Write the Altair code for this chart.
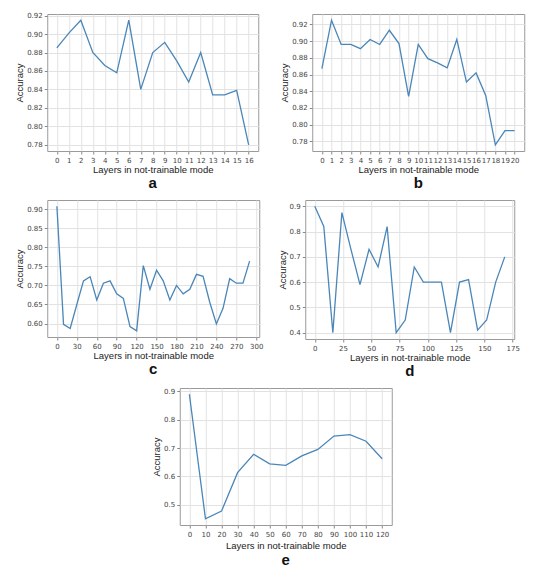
import altair as alt
import pandas as pd

# ---- data ----
a_x = list(range(17))
a_y = [0.885, 0.901, 0.915, 0.880, 0.866, 0.858, 0.915, 0.840, 0.880, 0.891,
       0.871, 0.848, 0.880, 0.834, 0.834, 0.839, 0.780]

b_x = list(range(21))
b_y = [0.867, 0.925, 0.896, 0.896, 0.891, 0.902, 0.896, 0.913, 0.897, 0.834,
       0.896, 0.879, 0.874, 0.868, 0.902, 0.851, 0.862, 0.835, 0.776, 0.793, 0.793]

c_x = list(range(0, 300, 10))
c_y = [0.908, 0.598, 0.587, 0.650, 0.712, 0.723, 0.662, 0.706, 0.712, 0.678,
       0.666, 0.592, 0.581, 0.752, 0.690, 0.740, 0.712, 0.662, 0.700, 0.678,
       0.690, 0.729, 0.724, 0.656, 0.599, 0.640, 0.718, 0.706, 0.706, 0.764]

d_x = list(range(0, 169, 8))
d_y = [0.900, 0.820, 0.400, 0.875, 0.730, 0.590, 0.730, 0.660, 0.820, 0.400,
       0.450, 0.660, 0.600, 0.600, 0.600, 0.400, 0.600, 0.610, 0.410, 0.450,
       0.600, 0.700]

e_x = list(range(0, 121, 10))
e_y = [0.890, 0.450, 0.477, 0.613, 0.678, 0.644, 0.639, 0.672, 0.695, 0.742,
       0.747, 0.724, 0.662]

a_xticks = list(range(17))
b_xticks = list(range(21))
c_xticks = list(range(0, 301, 30))
d_xticks = list(range(0, 176, 25))
e_xticks = list(range(0, 121, 10))

a_yticks = [0.78, 0.80, 0.82, 0.84, 0.86, 0.88, 0.90, 0.92]
b_yticks = [0.78, 0.80, 0.82, 0.84, 0.86, 0.88, 0.90, 0.92]
c_yticks = [0.60, 0.65, 0.70, 0.75, 0.80, 0.85, 0.90]
d_yticks = [0.4, 0.5, 0.6, 0.7, 0.8, 0.9]
e_yticks = [0.5, 0.6, 0.7, 0.8, 0.9]

XTITLE = "Layers in not-trainable mode"
LINE = "#4a86b8"


def margin(vals):
    lo, hi = min(vals), max(vals)
    r = hi - lo
    return [lo - 0.05 * r, hi + 0.05 * r]


def panel(xs, ys, xticks, yticks, yfmt, letter, w=211, h=137,
          xtitle_pad=1, letter_offset=2):
    df = pd.DataFrame({"x": xs, "y": ys})
    return alt.Chart(df).mark_line(color=LINE, strokeWidth=1.3).encode(
        x=alt.X("x:Q",
                scale=alt.Scale(domain=margin(xs), nice=False, zero=False),
                axis=alt.Axis(values=xticks, format="d", title=XTITLE,
                              titlePadding=xtitle_pad, labelOverlap=False,
                              labelFlush=False)),
        y=alt.Y("y:Q",
                scale=alt.Scale(domain=margin(ys), nice=False, zero=False),
                axis=alt.Axis(values=yticks, format=yfmt, title="Accuracy",
                              titlePadding=2, labelOverlap=False,
                              labelFlush=False)),
    ).properties(
        width=w, height=h,
        title=alt.TitleParams(letter, orient="bottom", frame="group",
                              anchor="middle", fontSize=15, fontWeight="bold",
                              font="Liberation Sans", color="#111",
                              offset=letter_offset),
    )


pa = panel(a_x, a_y, a_xticks, a_yticks, ".2f", "a")
pb = panel(b_x, b_y, b_xticks, b_yticks, ".2f", "b", w=212)
pc = panel(c_x, c_y, c_xticks, c_yticks, ".2f", "c", w=212)
pd_ = panel(d_x, d_y, d_xticks, d_yticks, ".1f", "d", w=209, h=139)
pe = panel(e_x, e_y, e_xticks, e_yticks, ".1f", "e", w=212, xtitle_pad=3,
           letter_offset=3)

row1 = alt.hconcat(pa, pb, spacing=19)
row2 = alt.hconcat(pc, pd_, spacing=12)
top = alt.vconcat(row1, row2, spacing=8)

chart = alt.vconcat(top, pe, spacing=7, center=True).properties(
    padding={"left": 14, "top": 11, "right": 5, "bottom": 0},
    background="white",
).configure_axis(
    labelFont="DejaVu Sans", labelFontSize=7, labelColor="#444",
    titleFont="Liberation Sans", titleFontSize=9.5, titleFontWeight="normal",
    titleColor="#222", gridColor="#e2e2e2", gridWidth=1,
    tickColor="#888", tickSize=3, labelPadding=2, domain=False,
).configure_view(stroke="#9a9a9a", strokeWidth=1)

chart.save("out.html", embed_options={"renderer": "svg", "actions": False})
